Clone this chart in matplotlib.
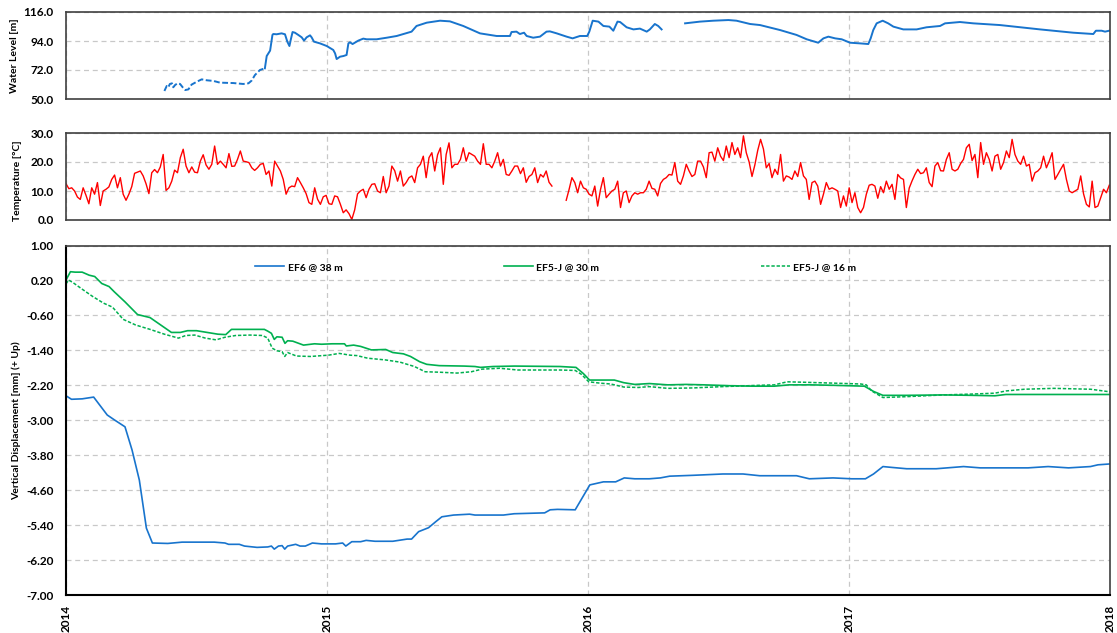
#!/usr/bin/env python3

import numpy as np
import matplotlib
matplotlib.use("Agg")
import matplotlib.pyplot as plt
from matplotlib.ticker import FormatStrFormatter

# Water level [m], decimal years. Early part is the dashed (patchy) record.
wl_dash_year = [2014.377, 2014.386, 2014.392, 2014.398, 2014.406, 2014.411, 2014.418, 2014.427,
                2014.437, 2014.447, 2014.457, 2014.469, 2014.481, 2014.501, 2014.520, 2014.539,
                2014.565, 2014.590, 2014.641, 2014.679, 2014.699, 2014.711, 2014.724, 2014.743,
                2014.762]
wl_dash = [56.1, 59.9, 58.9, 61.4, 61.9, 58.9, 60.6, 61.9,
           61.4, 58.9, 56.8, 57.3, 60.9, 63.1, 64.9, 64.2,
           63.7, 62.4, 62.1, 61.4, 61.9, 63.9, 68.2, 72.0,
           73.3]

wl_year = [2014.762, 2014.769, 2014.782, 2014.791, 2014.794, 2014.807, 2014.826, 2014.839,
           2014.848, 2014.856, 2014.861, 2014.868, 2014.877, 2014.890, 2014.903, 2014.912,
           2014.922, 2014.935, 2014.941, 2014.950, 2014.973, 2014.999, 2015.024, 2015.031,
           2015.037, 2015.050, 2015.063, 2015.075, 2015.082, 2015.088, 2015.098, 2015.120,
           2015.139, 2015.152, 2015.190, 2015.229, 2015.267, 2015.324, 2015.343, 2015.382,
           2015.433, 2015.471, 2015.522, 2015.586, 2015.650, 2015.701, 2015.707, 2015.726,
           2015.739, 2015.755, 2015.765, 2015.790, 2015.816, 2015.841, 2015.854, 2015.880,
           2015.918, 2015.941, 2015.969, 2015.997, 2016.005, 2016.018, 2016.040, 2016.059,
           2016.082, 2016.097, 2016.113, 2016.123, 2016.148, 2016.174, 2016.199, 2016.225,
           2016.237, 2016.256, 2016.269, 2016.282, 2016.330, 2016.372, 2016.429, 2016.480,
           2016.538, 2016.569, 2016.621, 2016.659, 2016.736, 2016.799, 2016.838, 2016.882,
           2016.902, 2016.921, 2016.947, 2016.972, 2017.004, 2017.042, 2017.074, 2017.083,
           2017.093, 2017.106, 2017.129, 2017.150, 2017.170, 2017.208, 2017.259, 2017.297,
           2017.349, 2017.368, 2017.425, 2017.476, 2017.578, 2017.732, 2017.859, 2017.936,
           2017.946, 2017.968, 2017.981, 2017.997]
wl = [73.3, 82.6, 86.7, 98.6, 99.3, 99.1, 99.8, 99.1,
      93.5, 90.2, 94.8, 100.8, 100.3, 98.6, 96.8, 94.3,
      96.8, 98.3, 96.8, 93.5, 92.2, 90.2, 87.2, 84.6,
      80.3, 82.1, 82.6, 83.4, 92.2, 93.0, 91.7, 94.3,
      95.8, 95.3, 95.3, 96.5, 97.8, 101.1, 105.4, 107.9,
      109.4, 108.9, 105.4, 99.8, 97.8, 97.8, 100.8, 101.1,
      99.3, 100.3, 97.8, 96.5, 97.3, 101.1, 101.3, 99.8,
      97.3, 96.0, 97.8, 97.8, 101.1, 109.4, 108.7, 105.4,
      104.9, 101.8, 108.7, 108.4, 104.4, 102.8, 103.4, 101.1,
      102.8, 106.9, 105.4, 102.8, np.nan, 107.4, 108.7, 109.4,
      109.9, 109.4, 106.9, 106.1, 102.3, 98.6, 95.3, 92.7,
      96.0, 97.3, 96.0, 95.3, 92.7, 92.2, 91.7, 96.0,
      102.3, 107.4, 109.4, 107.4, 104.9, 102.8, 102.8, 104.4,
      105.4, 107.4, 108.4, 107.4, 106.1, 102.8, 100.3, 99.3,
      101.8, 101.8, 101.1, 101.8]

# Temperature [deg C], one reading every 4 days from 2014-01-01 (nan = no data)
temp = [12.5, 10.8, 11.1, 10.0, 7.9, 7.1, 11.1, 8.5, 5.6, 11.1,
        8.9, 12.9, 5.0, 10.0, 10.6, 11.4, 14.0, 15.5, 11.1, 14.6,
        8.9, 6.8, 8.9, 11.5, 16.1, 16.5, 16.9, 15.2, 12.5, 9.1,
        16.3, 17.4, 16.3, 18.3, 22.6, 10.2, 11.1, 13.4, 17.2, 16.3,
        21.5, 24.4, 18.6, 16.3, 18.3, 16.5, 16.3, 20.3, 22.5, 19.0,
        17.5, 19.2, 25.5, 19.2, 20.3, 19.2, 18.0, 22.9, 18.5, 18.6,
        20.9, 23.8, 20.3, 20.1, 19.8, 18.0, 17.1, 18.0, 19.2, 19.5,
        15.7, 16.9, 11.7, 20.3, 18.6, 16.9, 14.0, 8.9, 11.1, 11.7,
        11.5, 14.6, 12.9, 11.1, 9.1, 6.0, 5.4, 11.1, 7.2, 5.4,
        8.0, 8.5, 5.6, 5.4, 8.3, 8.0, 5.4, 2.5, 3.5, 2.2,
        0.2, 3.5, 9.0, 10.0, 10.6, 7.7, 10.6, 12.3, 12.5, 10.0,
        9.4, 15.0, 9.4, 11.7, 18.6, 17.0, 13.4, 16.9, 11.7, 12.9,
        14.6, 15.2, 12.9, 18.0, 19.2, 22.0, 14.6, 21.5, 23.2, 16.9,
        22.5, 24.9, 12.3, 22.6, 26.6, 18.0, 19.2, 19.2, 20.9, 24.9,
        20.3, 23.2, 22.6, 22.0, 20.3, 19.2, 26.3, 19.2, 19.2, 18.0,
        20.3, 23.2, 18.6, 20.9, 15.7, 15.4, 16.9, 18.6, 18.6, 16.0,
        18.0, 13.0, 15.0, 15.7, 18.0, 12.9, 15.7, 14.8, 16.9, 13.0,
        11.7, np.nan, np.nan, np.nan, np.nan, 6.8, 10.5, 14.6, 12.9, 9.4,
        13.4, 11.1, 10.6, 8.9, 8.3, 11.7, 4.8, 10.5, 14.6, 7.7,
        8.9, 10.0, 10.6, 13.4, 4.3, 9.4, 10.0, 6.0, 8.3, 9.4,
        8.9, 9.4, 9.4, 10.6, 13.4, 10.9, 10.6, 8.3, 12.6, 14.0,
        14.6, 15.7, 15.5, 19.8, 13.4, 12.3, 15.2, 19.2, 16.9, 15.0,
        15.7, 20.3, 20.3, 18.3, 14.6, 23.2, 23.4, 20.3, 24.9, 22.0,
        20.5, 25.5, 21.5, 26.7, 22.6, 24.9, 21.5, 29.0, 23.2, 20.0,
        15.0, 19.0, 24.0, 27.8, 24.5, 18.0, 19.5, 14.6, 17.5, 15.7,
        22.6, 13.4, 15.2, 14.8, 14.0, 16.9, 15.0, 19.8, 15.2, 14.0,
        7.1, 12.9, 13.4, 11.7, 5.4, 8.9, 12.9, 10.6, 11.1, 10.6,
        10.0, 4.3, 8.3, 4.8, 11.1, 6.0, 9.4, 4.3, 2.5, 4.3,
        8.9, 12.0, 12.3, 11.7, 7.5, 11.5, 9.4, 13.4, 10.6, 12.3,
        7.1, 15.7, 14.5, 14.0, 4.3, 11.0, 13.5, 15.7, 17.5, 16.0,
        16.3, 18.0, 12.9, 11.5, 18.6, 19.8, 17.0, 16.9, 20.9, 23.2,
        17.5, 16.9, 17.5, 19.5, 20.9, 24.9, 26.1, 20.5, 22.6, 14.6,
        26.7, 19.2, 23.2, 20.9, 16.9, 22.0, 22.6, 17.5, 19.8, 23.8,
        21.5, 27.8, 22.6, 20.3, 19.2, 22.0, 18.6, 19.2, 13.4, 16.3,
        16.9, 18.0, 22.0, 18.0, 20.3, 23.2, 14.0, 15.7, 17.5, 19.2,
        14.0, 10.0, 9.4, 10.0, 10.6, 15.2, 9.0, 5.4, 4.5, 13.4,
        4.3, 4.8, 7.7, 10.6, 9.4, 12.0]

# Vertical displacement [mm] (+ up)
ef6_year = [2014.0, 2014.021, 2014.062, 2014.106, 2014.158, 2014.185, 2014.226, 2014.253,
            2014.281, 2014.308, 2014.331, 2014.390, 2014.445, 2014.568, 2014.609, 2014.623,
            2014.664, 2014.684, 2014.732, 2014.773, 2014.787, 2014.798, 2014.814, 2014.828,
            2014.838, 2014.849, 2014.880, 2014.897, 2014.917, 2014.944, 2014.979, 2015.033,
            2015.060, 2015.072, 2015.095, 2015.129, 2015.150, 2015.184, 2015.252, 2015.307,
            2015.324, 2015.351, 2015.389, 2015.417, 2015.440, 2015.485, 2015.546, 2015.567,
            2015.676, 2015.717, 2015.834, 2015.855, 2015.883, 2015.951, 2016.007, 2016.059,
            2016.106, 2016.139, 2016.179, 2016.235, 2016.277, 2016.313, 2016.404, 2016.517,
            2016.594, 2016.658, 2016.799, 2016.848, 2016.939, 2017.010, 2017.063, 2017.094,
            2017.130, 2017.165, 2017.221, 2017.334, 2017.439, 2017.503, 2017.686, 2017.763,
            2017.841, 2017.925, 2017.954, 2018.0]
ef6 = [-2.44, -2.52, -2.51, -2.47, -2.88, -2.99, -3.15, -3.68,
       -4.37, -5.47, -5.81, -5.82, -5.79, -5.79, -5.81, -5.84,
       -5.84, -5.88, -5.91, -5.90, -5.88, -5.95, -5.88, -5.87,
       -5.95, -5.88, -5.84, -5.88, -5.88, -5.81, -5.83, -5.83,
       -5.81, -5.88, -5.78, -5.78, -5.75, -5.77, -5.77, -5.72,
       -5.72, -5.55, -5.46, -5.32, -5.21, -5.17, -5.15, -5.17,
       -5.17, -5.14, -5.12, -5.05, -5.04, -5.05, -4.48, -4.41,
       -4.41, -4.32, -4.34, -4.34, -4.32, -4.28, -4.26, -4.23,
       -4.23, -4.27, -4.27, -4.34, -4.32, -4.34, -4.34, -4.23,
       -4.06, -4.08, -4.11, -4.11, -4.06, -4.09, -4.09, -4.06,
       -4.09, -4.06, -4.02, -4.00]

ef5_30_year = [2014.0, 2014.017, 2014.035, 2014.062, 2014.089, 2014.110, 2014.137, 2014.165,
               2014.185, 2014.226, 2014.274, 2014.322, 2014.363, 2014.404, 2014.438, 2014.466,
               2014.500, 2014.541, 2014.582, 2014.612, 2014.634, 2014.678, 2014.732, 2014.760,
               2014.773, 2014.787, 2014.798, 2014.808, 2014.828, 2014.839, 2014.849, 2014.869,
               2014.910, 2014.952, 2014.979, 2015.020, 2015.067, 2015.074, 2015.102, 2015.129,
               2015.170, 2015.225, 2015.252, 2015.293, 2015.320, 2015.355, 2015.382, 2015.430,
               2015.526, 2015.567, 2015.588, 2015.636, 2015.718, 2015.893, 2015.954, 2015.982,
               2016.006, 2016.045, 2016.101, 2016.137, 2016.179, 2016.235, 2016.306, 2016.376,
               2016.446, 2016.545, 2016.630, 2016.714, 2016.770, 2016.855, 2016.939, 2017.059,
               2017.094, 2017.130, 2017.221, 2017.362, 2017.475, 2017.559, 2017.601, 2017.785,
               2018.0]
ef5_30 = [0.21, 0.40, 0.39, 0.39, 0.32, 0.29, 0.13, 0.06,
          -0.06, -0.29, -0.58, -0.65, -0.82, -0.99, -0.99, -0.95,
          -0.95, -0.99, -1.03, -1.04, -0.92, -0.92, -0.92, -0.92,
          -0.96, -1.01, -1.15, -1.09, -1.10, -1.24, -1.18, -1.19,
          -1.28, -1.25, -1.26, -1.25, -1.25, -1.30, -1.28, -1.31,
          -1.39, -1.38, -1.45, -1.48, -1.54, -1.66, -1.72, -1.75,
          -1.76, -1.77, -1.79, -1.77, -1.76, -1.77, -1.79, -1.93,
          -2.08, -2.08, -2.08, -2.14, -2.18, -2.16, -2.19, -2.18,
          -2.19, -2.21, -2.22, -2.22, -2.19, -2.19, -2.20, -2.22,
          -2.34, -2.43, -2.43, -2.42, -2.43, -2.44, -2.41, -2.41,
          -2.41]

ef5_16_year = [2014.0, 2014.010, 2014.027, 2014.062, 2014.103, 2014.144, 2014.178, 2014.219,
               2014.267, 2014.322, 2014.377, 2014.431, 2014.459, 2014.493, 2014.534, 2014.575,
               2014.609, 2014.650, 2014.705, 2014.753, 2014.773, 2014.790, 2014.808, 2014.828,
               2014.838, 2014.849, 2014.883, 2014.937, 2015.006, 2015.047, 2015.088, 2015.115,
               2015.156, 2015.225, 2015.280, 2015.335, 2015.376, 2015.430, 2015.498, 2015.553,
               2015.594, 2015.662, 2015.731, 2015.893, 2015.951, 2015.975, 2016.003, 2016.045,
               2016.087, 2016.137, 2016.193, 2016.235, 2016.306, 2016.404, 2016.517, 2016.658,
               2016.714, 2016.763, 2016.827, 2016.939, 2017.045, 2017.066, 2017.087, 2017.130,
               2017.221, 2017.362, 2017.475, 2017.559, 2017.601, 2017.672, 2017.785, 2017.926,
               2018.0]
ef5_16 = [0.12, 0.21, 0.15, 0.0, -0.17, -0.32, -0.41, -0.69,
          -0.82, -0.92, -1.03, -1.12, -1.06, -1.05, -1.12, -1.16,
          -1.10, -1.06, -1.05, -1.06, -1.12, -1.35, -1.41, -1.43,
          -1.54, -1.45, -1.53, -1.54, -1.51, -1.47, -1.51, -1.52,
          -1.58, -1.62, -1.67, -1.77, -1.89, -1.90, -1.92, -1.89,
          -1.83, -1.81, -1.85, -1.85, -1.86, -1.95, -2.12, -2.15,
          -2.17, -2.24, -2.25, -2.23, -2.27, -2.26, -2.23, -2.20,
          -2.19, -2.12, -2.13, -2.15, -2.17, -2.19, -2.33, -2.48,
          -2.46, -2.42, -2.40, -2.38, -2.33, -2.29, -2.27, -2.29,
          -2.35]

year_ticks = [2014, 2015, 2016, 2017, 2018]


def style_axis(ax, ylim, yticks, fmt):
    ax.set_xlim(2014, 2018)
    ax.set_ylim(*ylim)
    ax.set_yticks(yticks)
    ax.set_xticks(year_ticks)
    ax.yaxis.set_major_formatter(FormatStrFormatter(fmt))
    ax.grid(True, color="#c8c8c8", linestyle=(0, (4, 3)), linewidth=0.9)
    ax.set_axisbelow(True)
    ax.tick_params(length=0, labelsize=8.5, pad=9)
    for lab in ax.get_yticklabels():
        lab.set_fontweight("bold")
    for sp in ax.spines.values():
        sp.set_color("#404040")
        sp.set_linewidth(1.2)


def main():
    plt.rcParams["font.family"] = ["Lato", "DejaVu Sans"]

    blue = "#1874cd"
    red = "#ff0000"
    green = "#00b050"

    fig = plt.figure(figsize=(11.17, 6.33), dpi=100)
    W, H = 1117.0, 633.0
    ax1 = fig.add_axes([66 / W, 1 - 99 / H, 1044 / W, 87 / H])
    ax2 = fig.add_axes([66 / W, 1 - 220 / H, 1044 / W, 87 / H])
    ax3 = fig.add_axes([66 / W, 1 - 595 / H, 1044 / W, 349.5 / H])

    # Water level
    ax1.plot(wl_dash_year, wl_dash, color=blue, lw=1.4, dashes=(3, 1.3))
    ax1.plot(wl_year, wl, color=blue, lw=1.4)
    style_axis(ax1, (50, 116), [50, 72, 94, 116], "%.1f")
    ax1.set_xticklabels([])
    ax1.set_ylabel("Water Level [m]", fontsize=7.5, fontweight="bold")

    # Temperature
    t_year = 2014 + np.arange(len(temp)) * 4 / 365.25
    ax2.plot(t_year, temp, color=red, lw=1.0)
    style_axis(ax2, (0, 30), [0, 10, 20, 30], "%.1f")
    ax2.set_xticklabels([])
    ax2.set_ylabel("Temperature [\u00b0C]", fontsize=7.5, fontweight="bold")

    # Displacement
    l1, = ax3.plot(ef6_year, ef6, color=blue, lw=1.2, label="EF6 @ 38 m")
    l2, = ax3.plot(ef5_30_year, ef5_30, color=green, lw=1.2, label="EF5-J @ 30 m")
    l3, = ax3.plot(ef5_16_year, ef5_16, color=green, lw=1.1, dashes=(2.2, 1.2),
                   label="EF5-J @ 16 m")
    style_axis(ax3, (-7.0, 1.0), np.arange(-7.0, 1.01, 0.8), "%.2f")
    ax3.set_xticklabels([str(y) for y in year_ticks], rotation=90,
                        fontweight="bold", fontsize=8.5)
    ax3.tick_params(axis="x", pad=7)
    ax3.set_ylabel("Vertical Displacement [mm] (+ Up)", fontsize=7.5, fontweight="bold")
    for sp in ("left", "bottom"):
        ax3.spines[sp].set_color("black")
        ax3.spines[sp].set_linewidth(1.5)

    leg = ax3.legend(handles=[l1, l2, l3], ncol=3, frameon=False, loc="center",
                     bbox_to_anchor=(0.469, 0.938), fontsize=7.5,
                     handlelength=2.8, handletextpad=0.3, columnspacing=15.5)
    for txt in leg.get_texts():
        txt.set_fontweight("bold")

    for ax in (ax1, ax2, ax3):
        ax.yaxis.label.set_verticalalignment("center")
    ax1.yaxis.set_label_coords(-0.049, 0.5)
    ax2.yaxis.set_label_coords(-0.046, 0.45)
    ax3.yaxis.set_label_coords(-0.048, 0.5)

    fig.savefig("out.png", dpi=100)


if __name__ == "__main__":
    main()
